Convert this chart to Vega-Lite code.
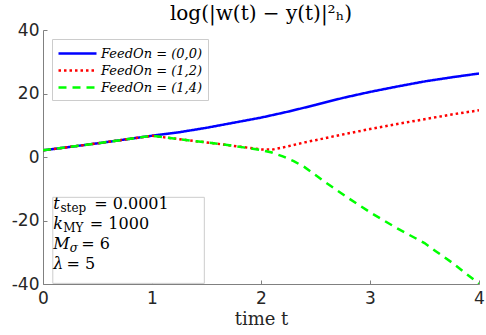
{
  "$schema": "https://vega.github.io/schema/vega-lite/v6.json",
  "autosize": "none",
  "width": 436,
  "height": 254,
  "padding": {"left": 43, "top": 30, "right": 7, "bottom": 51},
  "background": "white",
  "title": {
    "text": "log(|w(t) − y(t)|²ₕ)",
    "font": "DejaVu Serif",
    "fontSize": 20,
    "fontWeight": "normal",
    "color": "black",
    "anchor": "middle",
    "frame": "group",
    "baseline": "bottom",
    "offset": -23
  },
  "config": {
    "view": {"stroke": null},
    "axis": {
      "grid": false,
      "domainColor": "#808080",
      "domainWidth": 1,
      "tickColor": "#808080",
      "tickSize": -4,
      "labelFont": "DejaVu Sans",
      "labelFontSize": 17,
      "labelColor": "#262626",
      "titleFont": "DejaVu Serif",
      "titleFontSize": 18,
      "titleFontWeight": "normal",
      "titleColor": "#262626"
    }
  },
  "layer": [
    {
      "data": {
        "values": [
          {"t": 0, "v": 2.1, "series": "FeedOn = (0,0)"},
          {"t": 0.25, "v": 3.2, "series": "FeedOn = (0,0)"},
          {"t": 0.5, "v": 4.3, "series": "FeedOn = (0,0)"},
          {"t": 0.75, "v": 5.5, "series": "FeedOn = (0,0)"},
          {"t": 1, "v": 6.7, "series": "FeedOn = (0,0)"},
          {"t": 1.25, "v": 7.8, "series": "FeedOn = (0,0)"},
          {"t": 1.5, "v": 9.2, "series": "FeedOn = (0,0)"},
          {"t": 1.75, "v": 10.8, "series": "FeedOn = (0,0)"},
          {"t": 2, "v": 12.4, "series": "FeedOn = (0,0)"},
          {"t": 2.25, "v": 14.3, "series": "FeedOn = (0,0)"},
          {"t": 2.5, "v": 16.4, "series": "FeedOn = (0,0)"},
          {"t": 2.75, "v": 18.6, "series": "FeedOn = (0,0)"},
          {"t": 3, "v": 20.5, "series": "FeedOn = (0,0)"},
          {"t": 3.25, "v": 22.2, "series": "FeedOn = (0,0)"},
          {"t": 3.5, "v": 23.8, "series": "FeedOn = (0,0)"},
          {"t": 3.75, "v": 25.1, "series": "FeedOn = (0,0)"},
          {"t": 4, "v": 26.3, "series": "FeedOn = (0,0)"},
          {"t": 0, "v": 2.1, "series": "FeedOn = (1,2)"},
          {"t": 0.25, "v": 3.2, "series": "FeedOn = (1,2)"},
          {"t": 0.5, "v": 4.3, "series": "FeedOn = (1,2)"},
          {"t": 0.75, "v": 5.5, "series": "FeedOn = (1,2)"},
          {"t": 1, "v": 6.7, "series": "FeedOn = (1,2)"},
          {"t": 1.25, "v": 5.6, "series": "FeedOn = (1,2)"},
          {"t": 1.5, "v": 4.6, "series": "FeedOn = (1,2)"},
          {"t": 1.75, "v": 3.5, "series": "FeedOn = (1,2)"},
          {"t": 2, "v": 2.4, "series": "FeedOn = (1,2)"},
          {"t": 2.1, "v": 2.3, "series": "FeedOn = (1,2)"},
          {"t": 2.2, "v": 3.0, "series": "FeedOn = (1,2)"},
          {"t": 2.3, "v": 3.8, "series": "FeedOn = (1,2)"},
          {"t": 2.4, "v": 4.6, "series": "FeedOn = (1,2)"},
          {"t": 2.5, "v": 5.3, "series": "FeedOn = (1,2)"},
          {"t": 2.75, "v": 7.1, "series": "FeedOn = (1,2)"},
          {"t": 3, "v": 8.8, "series": "FeedOn = (1,2)"},
          {"t": 3.25, "v": 10.4, "series": "FeedOn = (1,2)"},
          {"t": 3.5, "v": 11.9, "series": "FeedOn = (1,2)"},
          {"t": 3.75, "v": 13.4, "series": "FeedOn = (1,2)"},
          {"t": 4, "v": 14.7, "series": "FeedOn = (1,2)"},
          {"t": 0, "v": 2.1, "series": "FeedOn = (1,4)"},
          {"t": 0.25, "v": 3.2, "series": "FeedOn = (1,4)"},
          {"t": 0.5, "v": 4.3, "series": "FeedOn = (1,4)"},
          {"t": 0.75, "v": 5.5, "series": "FeedOn = (1,4)"},
          {"t": 1, "v": 6.7, "series": "FeedOn = (1,4)"},
          {"t": 1.25, "v": 5.6, "series": "FeedOn = (1,4)"},
          {"t": 1.5, "v": 4.6, "series": "FeedOn = (1,4)"},
          {"t": 1.75, "v": 3.5, "series": "FeedOn = (1,4)"},
          {"t": 2, "v": 2.2, "series": "FeedOn = (1,4)"},
          {"t": 2.1, "v": 1.4, "series": "FeedOn = (1,4)"},
          {"t": 2.2, "v": 0.2, "series": "FeedOn = (1,4)"},
          {"t": 2.3, "v": -1.3, "series": "FeedOn = (1,4)"},
          {"t": 2.4, "v": -3.2, "series": "FeedOn = (1,4)"},
          {"t": 2.5, "v": -5.7, "series": "FeedOn = (1,4)"},
          {"t": 2.6, "v": -8.2, "series": "FeedOn = (1,4)"},
          {"t": 2.8, "v": -12.9, "series": "FeedOn = (1,4)"},
          {"t": 3, "v": -17.4, "series": "FeedOn = (1,4)"},
          {"t": 3.25, "v": -22.5, "series": "FeedOn = (1,4)"},
          {"t": 3.5, "v": -27.1, "series": "FeedOn = (1,4)"},
          {"t": 3.6, "v": -29.6, "series": "FeedOn = (1,4)"},
          {"t": 3.75, "v": -33.2, "series": "FeedOn = (1,4)"},
          {"t": 4, "v": -39.9, "series": "FeedOn = (1,4)"}
        ]
      },
      "mark": {"type": "line", "strokeWidth": 2.5, "clip": true},
      "encoding": {
        "x": {
          "field": "t", "type": "quantitative",
          "scale": {"domain": [0, 4], "nice": false, "zero": false},
          "axis": {"values": [0, 1, 2, 3, 4], "title": "time t", "labelPadding": 10, "titlePadding": 4, "labelFlush": false, "labelExpr": "'' + datum.value"}
        },
        "y": {
          "field": "v", "type": "quantitative",
          "scale": {"domain": [-40, 40], "nice": false},
          "axis": {"values": [-40, -20, 0, 20, 40], "title": null, "labelPadding": 8, "labelExpr": "'' + datum.value"}
        },
        "color": {
          "field": "series", "type": "nominal",
          "scale": {"domain": ["FeedOn = (0,0)", "FeedOn = (1,2)", "FeedOn = (1,4)"], "range": ["#0000ff", "#ff0000", "#00ff00"]},
          "legend": {
            "orient": "top-left",
            "offset": 9,
            "title": null,
            "strokeColor": "#cccccc",
            "fillColor": "white",
            "padding": 5,
            "symbolType": "M-3.75,0H1",
            "symbolSize": 256,
            "symbolOffset": 22,
            "symbolStrokeWidth": 2.5,
            "labelFont": "DejaVu Serif",
            "labelFontStyle": "italic",
            "labelFontSize": 13,
            "labelColor": "black",
            "rowPadding": 0,
            "labelOffset": 3
          }
        },
        "strokeDash": {
          "field": "series", "type": "nominal",
          "scale": {"domain": ["FeedOn = (0,0)", "FeedOn = (1,2)", "FeedOn = (1,4)"], "range": [[1, 0], [2.5, 3], [8, 6]]},
          "legend": null
        }
      }
    },
    {
      "data": {"values": [{}]},
      "mark": {"type": "rect", "fill": "white", "stroke": "#cccccc", "strokeWidth": 1},
      "encoding": {
        "x": {"datum": 0.09, "type": "quantitative"},
        "x2": {"datum": 1.48},
        "y": {"datum": -12.7, "type": "quantitative"},
        "y2": {"datum": -39.8}
      }
    },
    {
      "data": {"values": [{}]},
      "mark": {"type": "text", "text": "t", "font": "DejaVu Serif", "fontStyle": "italic", "fontSize": 16, "align": "left", "baseline": "alphabetic"},
      "encoding": {"x": {"datum": 0.095, "type": "quantitative"}, "y": {"datum": -16.3, "type": "quantitative"}}
    },
    {
      "data": {"values": [{}]},
      "mark": {"type": "text", "text": "step", "font": "DejaVu Serif", "fontSize": 12, "align": "left", "baseline": "alphabetic", "dy": 3},
      "encoding": {"x": {"datum": 0.16, "type": "quantitative"}, "y": {"datum": -16.3, "type": "quantitative"}}
    },
    {
      "data": {"values": [{}]},
      "mark": {"type": "text", "text": "= 0.0001", "font": "DejaVu Serif", "fontSize": 16, "align": "left", "baseline": "alphabetic"},
      "encoding": {"x": {"datum": 0.47, "type": "quantitative"}, "y": {"datum": -16.3, "type": "quantitative"}}
    },
    {
      "data": {"values": [{}]},
      "mark": {"type": "text", "text": "k", "font": "DejaVu Serif", "fontStyle": "italic", "fontSize": 16, "align": "left", "baseline": "alphabetic"},
      "encoding": {"x": {"datum": 0.095, "type": "quantitative"}, "y": {"datum": -22.65, "type": "quantitative"}}
    },
    {
      "data": {"values": [{}]},
      "mark": {"type": "text", "text": "MY", "font": "DejaVu Serif", "fontSize": 12, "align": "left", "baseline": "alphabetic", "dy": 3},
      "encoding": {"x": {"datum": 0.186, "type": "quantitative"}, "y": {"datum": -22.65, "type": "quantitative"}}
    },
    {
      "data": {"values": [{}]},
      "mark": {"type": "text", "text": "= 1000", "font": "DejaVu Serif", "fontSize": 16, "align": "left", "baseline": "alphabetic"},
      "encoding": {"x": {"datum": 0.43, "type": "quantitative"}, "y": {"datum": -22.65, "type": "quantitative"}}
    },
    {
      "data": {"values": [{}]},
      "mark": {"type": "text", "text": "M", "font": "DejaVu Serif", "fontStyle": "italic", "fontSize": 16, "align": "left", "baseline": "alphabetic"},
      "encoding": {"x": {"datum": 0.095, "type": "quantitative"}, "y": {"datum": -28.95, "type": "quantitative"}}
    },
    {
      "data": {"values": [{}]},
      "mark": {"type": "text", "text": "σ", "font": "DejaVu Serif", "fontStyle": "italic", "fontSize": 12, "align": "left", "baseline": "alphabetic", "dy": 3},
      "encoding": {"x": {"datum": 0.245, "type": "quantitative"}, "y": {"datum": -28.95, "type": "quantitative"}}
    },
    {
      "data": {"values": [{}]},
      "mark": {"type": "text", "text": "= 6", "font": "DejaVu Serif", "fontStyle": "normal", "fontSize": 16, "align": "left", "baseline": "alphabetic"},
      "encoding": {"x": {"datum": 0.35, "type": "quantitative"}, "y": {"datum": -28.95, "type": "quantitative"}}
    },
    {
      "data": {"values": [{}]},
      "mark": {"type": "text", "text": "λ", "font": "DejaVu Serif", "fontStyle": "italic", "fontSize": 16, "align": "left", "baseline": "alphabetic"},
      "encoding": {"x": {"datum": 0.095, "type": "quantitative"}, "y": {"datum": -35.3, "type": "quantitative"}}
    },
    {
      "data": {"values": [{}]},
      "mark": {"type": "text", "text": "= 5", "font": "DejaVu Serif", "fontSize": 16, "align": "left", "baseline": "alphabetic"},
      "encoding": {"x": {"datum": 0.215, "type": "quantitative"}, "y": {"datum": -35.3, "type": "quantitative"}}
    }
  ]
}
